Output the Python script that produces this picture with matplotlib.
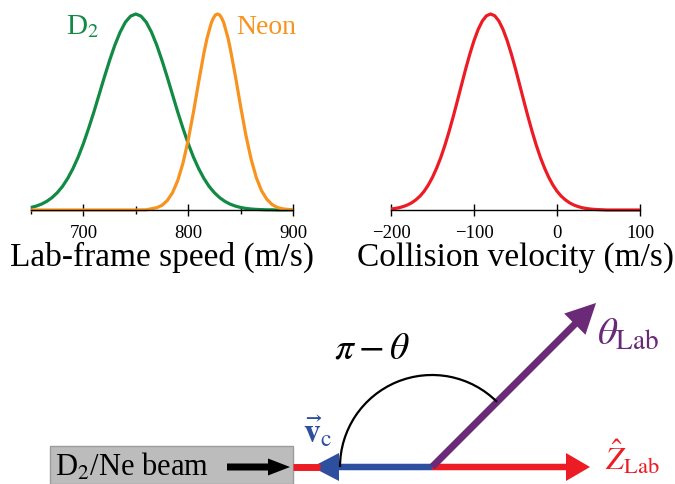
import numpy as np
import matplotlib
matplotlib.use("Agg")
import matplotlib.pyplot as plt
from matplotlib.patches import Arc, FancyArrow, Rectangle

plt.rcParams['font.family'] = ['Liberation Serif', 'DejaVu Serif']
plt.rcParams['mathtext.fontset'] = 'stix'

# speed distributions (normalised to peak = 1)
speed = [650, 655, 660, 665, 670, 675, 680, 685, 690, 695, 700, 705, 710, 715,
         720, 725, 730, 735, 740, 745, 750, 755, 760, 765, 770, 775, 780, 785,
         790, 795, 800, 805, 810, 815, 820, 825, 830, 835, 840, 845, 850, 855,
         860, 865, 870, 875, 880, 885, 890, 895, 900]
d2 = [0.013, 0.020, 0.030, 0.044, 0.063, 0.088, 0.120, 0.161, 0.211, 0.270,
      0.339, 0.417, 0.500, 0.589, 0.678, 0.763, 0.841, 0.907, 0.958, 0.989,
      1.0, 0.989, 0.958, 0.907, 0.841, 0.763, 0.678, 0.589, 0.500, 0.417,
      0.339, 0.270, 0.211, 0.161, 0.120, 0.088, 0.063, 0.044, 0.030, 0.020,
      0.013, 0.008, 0.005, 0.003, 0.002, 0.001, 0.001, 0.0, 0.0, 0.0, 0.0]

neon_speed = [650, 700, 750, 760, 770, 775, 780, 785, 790, 795, 800, 805, 810,
              815, 818, 822, 824, 826, 828, 830, 832, 834, 838, 840, 845, 850,
              855, 860, 865, 870, 875, 880, 885, 890, 900]
neon = [0.0, 0.0, 0.0, 0.001, 0.012, 0.024, 0.048, 0.088, 0.150, 0.239, 0.357,
        0.499, 0.653, 0.801, 0.877, 0.954, 0.979, 0.995, 1.0, 0.995, 0.979,
        0.954, 0.877, 0.827, 0.684, 0.529, 0.383, 0.260, 0.165, 0.098, 0.055,
        0.028, 0.013, 0.006, 0.0]

coll_v = [-200, -195, -190, -185, -180, -175, -170, -165, -160, -155, -150,
          -145, -140, -135, -130, -125, -120, -115, -110, -105, -100, -95, -90,
          -85, -80, -75, -70, -65, -60, -55, -50, -45, -40, -35, -30, -25, -20,
          -15, -10, -5, 0, 5, 10, 15, 20, 25, 30, 35, 40, 45, 50, 55, 60, 80,
          100]
coll = [0.005, 0.008, 0.012, 0.018, 0.026, 0.037, 0.052, 0.071, 0.096, 0.128,
        0.167, 0.214, 0.268, 0.331, 0.401, 0.477, 0.557, 0.639, 0.720, 0.796,
        0.864, 0.921, 0.964, 0.991, 1.0, 0.991, 0.964, 0.921, 0.864, 0.796,
        0.720, 0.639, 0.557, 0.477, 0.401, 0.331, 0.268, 0.214, 0.167, 0.128,
        0.096, 0.071, 0.052, 0.037, 0.026, 0.018, 0.012, 0.008, 0.005, 0.003,
        0.002, 0.001, 0.0, 0.0, 0.0]

GREEN = '#118a44'
ORANGE = '#f7931e'
RED = '#ed1c24'
PURPLE = '#6a2a78'
BLUE = '#2e4f9f'

W, H = 675, 485
fig = plt.figure(figsize=(W / 100, H / 100), dpi=100)

# diagram layer in pixel units (y up)
dg = fig.add_axes([0, 0, 1, 1])
dg.set_xlim(0, W)
dg.set_ylim(0, H)
dg.axis('off')


def style_axis(ax):
    for s in ['left', 'right', 'top']:
        ax.spines[s].set_visible(False)
    ax.spines['bottom'].set_linewidth(1.0)
    ax.set_yticks([])
    ax.set_ylim(0, 1.0)
    ax.patch.set_alpha(0)
    ax.tick_params(axis='x', which='major', direction='inout', length=8,
                   width=1, labelsize=13.5, pad=6)
    ax.tick_params(axis='x', which='minor', direction='inout', length=6,
                   width=1)


ax1 = fig.add_axes([31 / W, 274 / H, 262 / W, 196 / H])
style_axis(ax1)
ax1.plot(speed, d2, color=GREEN, lw=2.3, clip_on=False, solid_capstyle='butt')
ax1.plot(neon_speed, neon, color=ORANGE, lw=2.3, clip_on=False, solid_capstyle='butt')
ax1.set_xlim(650, 900)
ax1.set_xticks([700, 800, 900])
ax1.set_xticks([650, 750, 850], minor=True)
ax1.set_xlabel('Lab-frame speed (m/s)', fontsize=24, labelpad=0)
ax1.text(0.135, 0.87, r'D$_2$', color=GREEN, fontsize=21, transform=ax1.transAxes,
         ha='left', va='bottom')
ax1.text(0.785, 0.87, 'Neon', color=ORANGE, fontsize=20, transform=ax1.transAxes,
         ha='left', va='bottom')

ax2 = fig.add_axes([391 / W, 274 / H, 249 / W, 196 / H])
style_axis(ax2)
ax2.plot(coll_v, coll, color=RED, lw=2.3, clip_on=False, solid_capstyle='butt')
ax2.set_xlim(-200, 100)
ax2.set_xticks([-200, -100, 0, 100])
ax2.set_xticklabels(['\u2212200', '\u2212100', '0', '100'])
ax2.set_xlabel('Collision velocity (m/s)', fontsize=24, labelpad=0)

# ---- bottom diagram ----
ox, oy = 432, 17       # origin of the vectors
beam_y = 17

dg.add_patch(Rectangle((50, 0), 243, 38, facecolor='#bcbcbc',
                       edgecolor='#9c9c9c', lw=1))
dg.text(55, beam_y + 1, r'D$_2$/Ne beam', fontsize=22, ha='left', va='center')
dg.add_patch(FancyArrow(227, beam_y, 63, 0, width=7, head_width=17,
                        head_length=22, length_includes_head=True,
                        color='black', lw=0))

# red stub and red Z arrow
dg.plot([293, 320], [beam_y, beam_y], color=RED, lw=5, solid_capstyle='butt')
dg.add_patch(FancyArrow(ox, oy, 158, 0, width=6.5, head_width=28,
                        head_length=24, length_includes_head=True,
                        color=RED, lw=0))
# blue v_c arrow
dg.add_patch(FancyArrow(ox, oy, -120, 0, width=6.5, head_width=28,
                        head_length=27, length_includes_head=True,
                        color=BLUE, lw=0))
# purple theta_lab arrow at 45 deg
L = 232
dg.add_patch(FancyArrow(ox, oy, L * np.cos(np.pi / 4), L * np.sin(np.pi / 4),
                        width=7, head_width=30, head_length=30,
                        length_includes_head=True, color=PURPLE, lw=0))
# angle arc
dg.add_patch(Arc((ox, oy), 184, 184, theta1=45, theta2=180, color='black', lw=1.6))

dg.text(372, 136, r'$\pi-\theta$', fontsize=27, ha='center', va='center')
dg.text(597, 150, r'$\theta_{\rm Lab}$', fontsize=28, color=PURPLE,
        ha='left', va='center')
dg.text(605, 28, r'$\hat{Z}_{\rm Lab}$', fontsize=23, color=RED,
        ha='left', va='center')
dg.text(303, 53, r'$\vec{\mathbf{v}}_{\rm c}$', fontsize=24, color=BLUE,
        ha='left', va='center')

fig.savefig('out.png', dpi=100)
